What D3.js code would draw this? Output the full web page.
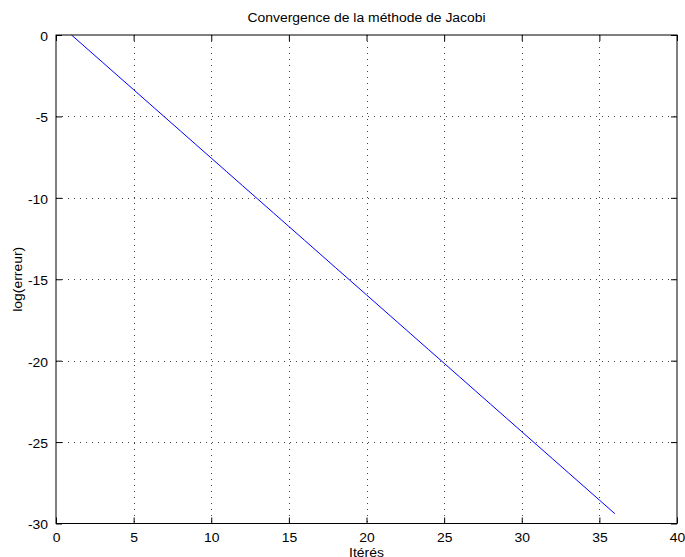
<!DOCTYPE html>
<html>
<head>
<meta charset="utf-8">
<script src="https://cdn.jsdelivr.net/npm/d3@7"></script>
<style>
  body { margin: 0; background: #fff; }
  svg { display: block; font-family: "Liberation Sans", Arial, Helvetica, sans-serif; }
</style>
</head>
<body>
<div class="vis-jacobi"></div>
<script>
// Data
const iterations = [1, 2, 3, 4, 5, 6, 7, 8, 9, 10, 11, 12, 13, 14, 15, 16, 17, 18,
    19, 20, 21, 22, 23, 24, 25, 26, 27, 28, 29, 30, 31, 32, 33, 34, 35, 36];
const logErreur = [0, -0.84, -1.68, -2.52, -3.36, -4.20, -5.04, -5.88, -6.72, -7.56,
    -8.40, -9.24, -10.08, -10.92, -11.76, -12.60, -13.44, -14.28, -15.12, -15.96,
    -16.80, -17.64, -18.48, -19.32, -20.16, -21.00, -21.84, -22.68, -23.52, -24.36,
    -25.20, -26.04, -26.88, -27.72, -28.56, -29.40];
const xTicks = [0, 5, 10, 15, 20, 25, 30, 35, 40];
const yTicks = [0, -5, -10, -15, -20, -25, -30];

const W = 685, H = 557;
const margin = { top: 35, right: 8, bottom: 33.5, left: 56 };
const width = W - margin.left - margin.right;
const height = H - margin.top - margin.bottom;
const stretch = 1.16; // text in the picture is a bit wider than plain Arial

const svg = d3.select('.vis-jacobi')
    .append('svg')
    .attr('width', W)
    .attr('height', H);

const g = svg.append('g')
    .attr('transform', `translate(${margin.left},${margin.top})`);

const x = d3.scaleLinear().domain([0, 40]).range([0, width]);
const y = d3.scaleLinear().domain([-30, 0]).range([height, 0]);

// Grid (dotted)
const grid = g.append('g')
    .attr('stroke', '#444')
    .attr('stroke-width', 1)
    .attr('stroke-dasharray', '1,5');
grid.selectAll('.vgrid')
    .data(xTicks.filter(d => d > 0 && d < 40))
    .enter().append('line')
    .attr('x1', d => Math.round(x(d)) + 0.5).attr('x2', d => Math.round(x(d)) + 0.5)
    .attr('y1', 0).attr('y2', height);
grid.selectAll('.hgrid')
    .data(yTicks.filter(d => d > -30 && d < 0))
    .enter().append('line')
    .attr('y1', d => Math.round(y(d)) + 0.5).attr('y2', d => Math.round(y(d)) + 0.5)
    .attr('x1', 0).attr('x2', width);

// Line
const line = d3.line()
    .x((d, i) => x(iterations[i]))
    .y(d => y(d));
g.append('path')
    .datum(logErreur)
    .attr('fill', 'none')
    .attr('stroke', '#0000ff')
    .attr('stroke-width', 1)
    .attr('d', line);

// Axes, ticks inward on all four sides
const tickLen = 6;
const styleAxis = sel => {
    sel.select('.domain').remove();
    sel.selectAll('.tick line').attr('stroke', '#000');
    sel.selectAll('.tick text')
        .attr('fill', '#000')
        .style('font-size', '12px')
        .style('font-family', '"Liberation Sans", Arial, Helvetica, sans-serif');
};
g.append('g')
    .attr('transform', `translate(0,${height})`)
    .call(d3.axisBottom(x).tickValues(xTicks).tickSizeInner(-tickLen).tickSizeOuter(0)
        .tickPadding(10).tickFormat(d => String(d)))
    .call(styleAxis)
    .selectAll('.tick text')
    .attr('transform', `scale(${stretch},1)`);
g.append('g')
    .call(d3.axisTop(x).tickValues(xTicks).tickSizeInner(-tickLen).tickSizeOuter(0).tickFormat(''))
    .call(styleAxis);
const yAxis = g.append('g')
    .call(d3.axisLeft(y).tickValues(yTicks).tickSizeInner(-tickLen).tickSizeOuter(0)
        .tickPadding(8).tickFormat(d => String(d)))
    .call(styleAxis);
yAxis.selectAll('.tick text')
    .attr('x', -8 / stretch)
    .attr('dy', '0.45em')
    .attr('transform', `scale(${stretch},1)`);
g.append('g')
    .attr('transform', `translate(${width},0)`)
    .call(d3.axisRight(y).tickValues(yTicks).tickSizeInner(-tickLen).tickSizeOuter(0).tickFormat(''))
    .call(styleAxis);

// Box
g.append('rect')
    .attr('x', 0).attr('y', 0)
    .attr('width', width).attr('height', height)
    .attr('fill', 'none')
    .attr('stroke', '#000')
    .attr('stroke-width', 1);

// Labels
const cx = margin.left + width / 2;
svg.append('text')
    .attr('transform', `translate(${cx},22) scale(${stretch},1)`)
    .attr('text-anchor', 'middle')
    .style('font-size', '12px')
    .text('Convergence de la méthode de Jacobi');
svg.append('text')
    .attr('transform', `translate(${cx},556.5) scale(${stretch},1)`)
    .attr('text-anchor', 'middle')
    .style('font-size', '12px')
    .text('Itérés');
svg.append('text')
    .attr('transform', `translate(22,${margin.top + height / 2}) rotate(-90) scale(${stretch},1)`)
    .attr('text-anchor', 'middle')
    .style('font-size', '12px')
    .text('log(erreur)');
</script>
</body>
</html>
